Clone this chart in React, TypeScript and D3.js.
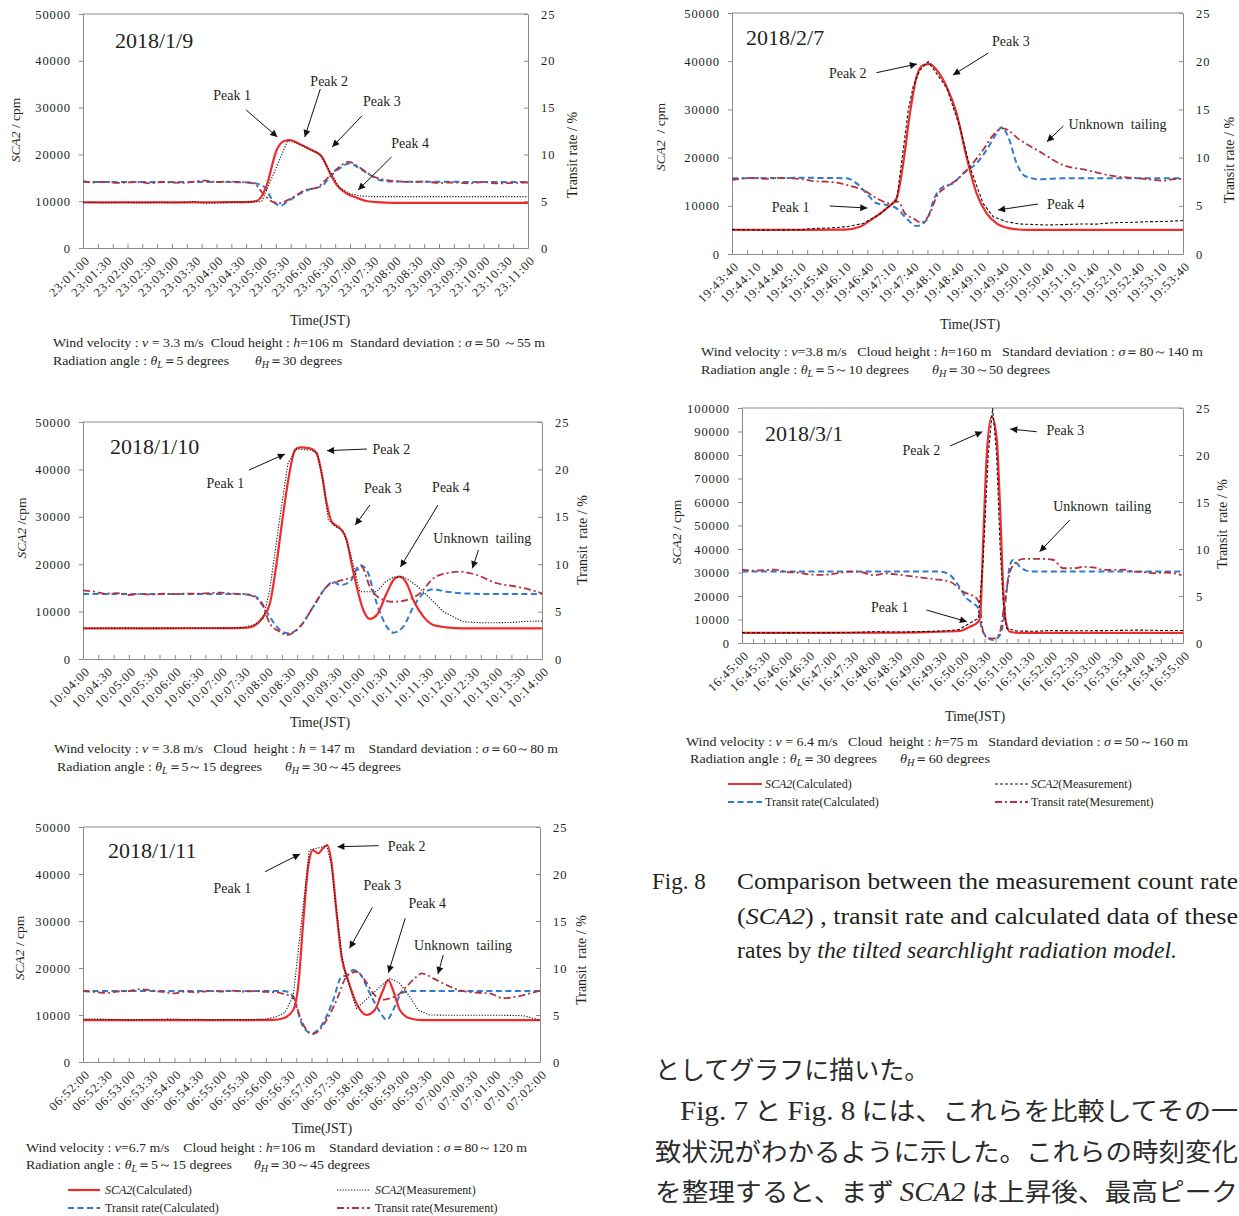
import React, { useEffect, useRef } from "react";
import * as d3 from "d3";

type Pt = [number, number];
type Seg = { s: string; i?: boolean; sub?: boolean };
type Note = { label: string; at: Pt; from: Pt; to: Pt };

const SERIF = "'Liberation Serif', 'Times New Roman', Times, serif";
const CJK = "'Noto Sans CJK JP', 'Noto Sans CJK SC', sans-serif";
const AXIS_GRAY = "#8a8a8a";
const INK = "#231f20";
const RED = "#ef2b2d";
const BLUE = "#2f7bcd";
const DARK_RED = "#b5323c";

const RIGHT_TICKS = [0, 5, 10, 15, 20, 25];

// time = seconds after the panel's first label, SCA2 in cpm, transit rate in %

// 2018/1/9
const P1_SCA2_CALC: Pt[] = [[0, 9750], [60, 9750], [120, 9760], [180, 9780], [220, 9800], [235, 10100], [247, 13100], [261, 20900], [272, 22900], [279, 23080], [292, 22200], [306, 21100], [317, 20200], [322, 19500], [333, 16000], [342, 13500], [355, 11700], [369, 10750], [382, 10040], [396, 9800], [420, 9650], [600, 9650]];
const P1_SCA2_MEAS: Pt[] = [[0, 9700], [15, 9750], [30, 9650], [45, 9700], [60, 9750], [75, 9650], [90, 9700], [105, 9800], [120, 9650], [135, 9750], [150, 9950], [165, 9550], [180, 9600], [195, 9700], [210, 9800], [225, 9850], [241, 9900], [276, 22950], [290, 22300], [306, 21000], [320, 20000], [333, 16300], [346, 12900], [360, 11600], [375, 11100], [390, 10970], [600, 10970]];
const P1_TRANSIT_CALC: Pt[] = [[0, 7.05], [60, 7.05], [120, 7.05], [180, 7.05], [225, 7.0], [244, 6.55], [254, 5.3], [265.5, 4.5], [279, 5.13], [292, 5.77], [306, 6.27], [322, 6.6], [333, 7.62], [346, 8.51], [360, 9.05], [369, 8.7], [387, 7.8], [400, 7.26], [415, 7.1], [600, 7.05]];
const P1_TRANSIT_MEAS: Pt[] = [[0, 7.15], [15, 7.0], [30, 7.1], [45, 6.95], [60, 7.0], [75, 7.05], [90, 6.9], [105, 7.05], [120, 7.0], [135, 6.95], [150, 7.1], [165, 7.2], [180, 7.05], [195, 7.1], [210, 7.05], [230, 6.9], [245, 5.6], [254, 5.0], [262, 4.75], [270, 4.9], [285, 5.5], [300, 6.2], [315, 6.45], [330, 7.5], [346, 8.7], [358, 9.2], [375, 8.5], [390, 7.7], [405, 7.3], [420, 7.15], [440, 7.05], [460, 7.1], [480, 6.95], [500, 7.0], [520, 6.9], [540, 7.05], [560, 6.9], [580, 6.95], [600, 7.0]];

// 2018/1/10
const P2_SCA2_CALC: Pt[] = [[0, 6450], [100, 6480], [200, 6500], [215, 6600], [222.6, 6900], [235.7, 8930], [244.4, 11750], [253, 20190], [261.8, 30740], [270.6, 39870], [277, 44090], [283.7, 44660], [296.7, 44450], [305.4, 43390], [312, 39170], [318.5, 32850], [325, 28970], [336, 27570], [344.7, 25100], [351, 20190], [357.8, 15250], [366.4, 10340], [375, 8450], [384, 9280], [397, 13860], [407.8, 17030], [414, 17360], [423, 15970], [431.8, 12450], [445, 8930], [458, 7170], [475, 6690], [496, 6480], [600, 6450]];
const P2_SCA2_MEAS: Pt[] = [[0, 6500], [15, 6450], [30, 6550], [45, 6500], [60, 6600], [75, 6450], [90, 6500], [105, 6550], [120, 6500], [135, 6600], [150, 6500], [165, 6550], [180, 6500], [195, 6550], [210, 6650], [225, 7300], [235.7, 8650], [244, 14550], [257.5, 30000], [268, 41350], [279, 44300], [296.7, 44100], [306, 43600], [314, 37500], [320.6, 29320], [330, 27900], [340, 27200], [350, 22000], [362, 14200], [384, 14200], [395, 16200], [405.6, 17300], [420, 17300], [436, 15500], [453.6, 12800], [471, 9980], [497, 7870], [520, 7650], [540, 7660], [560, 7700], [580, 7950], [600, 8000]];
const P2_TRANSIT_CALC: Pt[] = [[0, 6.85], [100, 6.85], [200, 6.85], [220, 6.75], [231, 6.22], [244, 4.46], [257.5, 3.06], [268, 2.71], [283.7, 3.41], [301, 5.52], [318.5, 7.63], [327, 8.15], [336, 7.8], [349, 8.15], [362, 9.92], [370.8, 9.39], [384, 5.87], [397, 3.41], [405.6, 2.78], [418.7, 3.41], [432, 5.52], [445, 6.93], [458, 7.35], [475, 7.1], [496, 6.93], [540, 6.85], [600, 6.85]];
const P2_TRANSIT_MEAS: Pt[] = [[0, 7.25], [15, 7.1], [30, 6.9], [45, 6.95], [60, 6.75], [75, 6.85], [90, 6.8], [105, 6.9], [120, 6.85], [135, 6.9], [150, 6.9], [165, 6.95], [180, 7.0], [195, 6.9], [210, 6.85], [218, 6.75], [235.7, 5.52], [244, 3.76], [257.5, 2.88], [266, 2.53], [283.7, 3.41], [301, 5.52], [318.5, 7.63], [336, 8.26], [353, 8.68], [364, 9.74], [375, 7.63], [388, 6.4], [405.6, 6.04], [423, 6.22], [440.5, 6.93], [458, 8.51], [475, 9.04], [492.8, 9.21], [514.6, 8.86], [540.8, 7.99], [567, 7.63], [585, 7.3], [600, 6.93]];

// 2018/1/11
const P3_SCA2_CALC: Pt[] = [[0, 8900], [100, 8900], [200, 8900], [250, 8950], [263, 9300], [276, 11060], [282.5, 16030], [289, 29500], [295.7, 41560], [302, 45100], [308.8, 44400], [315, 45470], [320.6, 46170], [326.4, 42280], [333, 31640], [339.5, 22400], [348, 17450], [359, 12490], [372, 10000], [383, 11060], [394, 15320], [400.7, 17450], [407, 15320], [416, 11060], [429, 9300], [446.6, 8900], [600, 8900]];
const P3_SCA2_MEAS: Pt[] = [[0, 9100], [15, 9150], [30, 9100], [45, 9000], [60, 8900], [75, 9000], [90, 9050], [105, 9100], [120, 9150], [135, 9000], [150, 9100], [165, 8900], [180, 9000], [195, 9050], [210, 9000], [225, 9050], [240, 9100], [255, 9700], [265, 10500], [276, 14000], [289, 33000], [297, 45100], [310, 45600], [320, 46000], [326, 42000], [333, 32000], [340, 22500], [346, 18000], [359, 11420], [376, 13900], [390, 16000], [403, 17800], [416, 16740], [429, 13900], [440, 11060], [455, 10000], [480, 9950], [510, 9950], [540, 9950], [570, 9900], [580, 9800], [600, 8900]];
const P3_TRANSIT_CALC: Pt[] = [[0, 7.55], [100, 7.55], [200, 7.55], [260, 7.55], [271.6, 7.4], [280, 5.89], [289, 3.76], [300, 3.05], [315, 4.11], [328.5, 6.6], [339.5, 9.08], [346, 9.2], [354.7, 9.79], [363.5, 9.4], [376.6, 7.3], [389.8, 5.35], [398.6, 4.47], [409.4, 5.89], [418, 7.3], [429, 7.55], [600, 7.55]];
const P3_TRANSIT_MEAS: Pt[] = [[0, 7.55], [15, 7.45], [30, 7.35], [45, 7.5], [60, 7.55], [75, 7.75], [90, 7.6], [105, 7.45], [120, 7.3], [135, 7.5], [150, 7.4], [165, 7.55], [180, 7.5], [195, 7.6], [210, 7.5], [225, 7.55], [240, 7.45], [255, 7.4], [265, 7.2], [276, 6.95], [284.8, 4.82], [293.5, 3.4], [302, 2.98], [319.8, 4.47], [333, 6.6], [346, 9.08], [359, 9.6], [370, 8.72], [381, 7.3], [392, 6.6], [403, 6.78], [413.8, 7.13], [424.8, 8.02], [438, 9.08], [444.5, 9.43], [459.7, 8.9], [472.8, 8.37], [490.4, 7.73], [516.7, 7.37], [534, 7.3], [551.6, 6.78], [569, 6.95], [586.6, 7.3], [600, 7.6]];

// 2018/2/7
const P4_SCA2_CALC: Pt[] = [[0, 5000], [100, 5000], [150, 5050], [170, 5660], [188, 7400], [205.7, 9480], [219, 11560], [227.8, 18820], [236.7, 29180], [245.6, 36800], [254.4, 39200], [263.3, 39400], [272.2, 38170], [285.5, 34700], [298.8, 29180], [312, 20180], [325.4, 12590], [338.7, 8440], [352, 6370], [369.7, 5330], [392, 5000], [600, 5000]];
const P4_SCA2_MEAS: Pt[] = [[0, 5100], [20, 5050], [40, 4950], [64, 5000], [90, 5050], [110, 5300], [130, 5400], [152.5, 5660], [175, 6370], [196.8, 8300], [219, 11200], [227.8, 21580], [234.5, 29880], [241, 34700], [250, 38170], [261, 39900], [285.5, 34500], [303, 26400], [316.5, 18100], [334, 10500], [347.5, 7740], [365, 6700], [383, 6220], [418.5, 6020], [440, 6100], [462.8, 6220], [485, 6200], [507, 6500], [530, 6550], [551, 6700], [575, 6750], [600, 6910]];
const P4_TRANSIT_CALC: Pt[] = [[0, 7.85], [100, 7.9], [152.5, 7.85], [165.8, 7.33], [179, 6.3], [192.4, 5.26], [205.7, 5.08], [219, 4.74], [232, 3.7], [245.6, 2.9], [259, 3.53], [270, 5.94], [281, 6.98], [294, 7.33], [307.6, 8.37], [325.4, 9.41], [338.7, 10.79], [352, 12.52], [358.6, 13.14], [367.4, 12.17], [378.6, 9.41], [389.6, 8.09], [409.6, 7.75], [440, 7.85], [600, 7.85]];
const P4_TRANSIT_MEAS: Pt[] = [[0, 7.7], [15, 7.85], [30, 7.9], [45, 7.8], [63.8, 7.9], [80, 7.85], [95, 7.75], [108, 7.57], [125, 7.5], [140, 7.4], [152.5, 7.16], [165, 6.9], [174.6, 6.64], [192.4, 5.78], [210, 5.26], [221, 5.43], [230, 4.22], [241, 3.7], [252, 3.25], [263.3, 4.22], [272, 5.94], [285.5, 6.98], [298.8, 7.68], [316.5, 9.06], [334, 10.79], [347.5, 12.34], [360.8, 13.04], [383, 11.83], [409.6, 10.61], [440.6, 9.23], [471.7, 8.71], [507, 8.09], [542.6, 7.85], [560, 7.7], [573.5, 7.6], [585, 7.75], [600, 7.8]];

// 2018/3/1
const P5_SCA2_CALC: Pt[] = [[0, 4300], [100, 4300], [200, 4400], [250, 4600], [280, 4900], [296.6, 5100], [310, 6940], [319.3, 8380], [323.8, 10500], [328.3, 44550], [333, 80000], [339.7, 96300], [346.5, 87100], [351, 58700], [355.6, 21830], [359, 9060], [364.6, 4810], [377, 4300], [600, 4300]];
const P5_SCA2_MEAS: Pt[] = [[0, 4400], [30, 4350], [60, 4400], [90, 4450], [120, 4400], [150, 4500], [180, 4800], [200, 4700], [220, 4650], [240, 4800], [260, 5000], [280, 5200], [296, 5800], [305.7, 7660], [321.5, 10500], [328, 34600], [335, 80000], [341, 100000], [346.5, 80000], [351, 41700], [355.6, 16170], [360, 6240], [373.7, 5100], [400, 5000], [420, 5300], [460, 5200], [500, 5300], [540, 5500], [570, 5300], [600, 5300]];
const P5_TRANSIT_CALC: Pt[] = [[0, 7.6], [200, 7.6], [269.4, 7.6], [283, 7.23], [294, 6.17], [305.7, 4.75], [314.7, 4.22], [321.5, 3.69], [326, 1.56], [333, 0.67], [342, 0.32], [351, 0.85], [355.6, 2.27], [360, 5.46], [364.6, 8.3], [369, 8.83], [378, 8.12], [387, 7.7], [400, 7.6], [600, 7.6]];
const P5_TRANSIT_MEAS: Pt[] = [[0, 7.8], [15, 7.7], [30, 7.75], [45, 7.8], [60, 7.55], [75, 7.5], [90, 7.3], [105, 7.25], [120, 7.3], [135, 7.5], [150, 7.6], [165, 7.5], [180, 7.2], [195, 7.4], [210, 7.3], [225, 7.15], [240, 7.0], [260, 6.8], [283, 6.52], [301, 5.46], [319.3, 4.75], [324, 3.69], [328, 1.2], [335, 0.5], [344, 0.5], [351, 1.2], [358, 4.75], [364.6, 7.59], [373.7, 8.65], [383, 8.94], [410, 8.94], [423.7, 8.83], [437, 7.95], [451, 7.95], [465, 8.1], [478, 8.05], [491.6, 7.77], [509.8, 7.77], [520, 7.8], [532.6, 7.59], [545, 7.55], [560, 7.42], [578, 7.5], [598, 7.23]];

// annotations in data units (seconds, cpm)
const P1_NOTES: Note[] = [
  { label: "Peak 1", at: [201, 32700], from: [220, 29490], to: [262, 23720] },
  { label: "Peak 2", at: [332, 35690], from: [320, 33980], to: [299, 23720] },
  { label: "Peak 3", at: [403, 31410], from: [376, 28210], to: [336, 21580] },
  { label: "Peak 4", at: [441, 22440], from: [416, 19450], to: [371, 12400] },
];
const P2_NOTES: Note[] = [
  { label: "Peak 1", at: [186, 37130], from: [217, 39870], to: [264, 43250] },
  { label: "Peak 2", at: [403, 44300], from: [371, 44300], to: [319, 43950] },
  { label: "Peak 3", at: [392, 36080], from: [375, 32490], to: [356, 28270] },
  { label: "Peak 4", at: [481, 36290], from: [464, 32490], to: [415, 19410] },
  { label: "Unknown  tailing", at: [522, 25530], from: [517, 23000], to: [509, 19130] },
];
const P3_NOTES: Note[] = [
  { label: "Peak 1", at: [196, 37020], from: [239, 40490], to: [285, 44260] },
  { label: "Peak 2", at: [425, 45960], from: [388, 46020], to: [334, 45810] },
  { label: "Peak 3", at: [393, 37660], from: [380, 32920], to: [350, 24190] },
  { label: "Peak 4", at: [452, 33830], from: [423, 30570], to: [401, 19000] },
  { label: "Unknown  tailing", at: [499, 24890], from: [473, 22770], to: [466, 18720] },
];
const P4_NOTES: Note[] = [
  { label: "Peak 2", at: [154, 37550], from: [192, 37610], to: [246, 39420] },
  { label: "Peak 3", at: [371, 44190], from: [341, 41700], to: [294, 37140] },
  { label: "Unknown  tailing", at: [513, 26970], from: [441, 26560], to: [419, 23300] },
  { label: "Peak 1", at: [78, 9750], from: [130, 9960], to: [180, 9540] },
  { label: "Peak 4", at: [444, 10370], from: [407, 10370], to: [354, 9130] },
];
const P5_NOTES: Note[] = [
  { label: "Peak 2", at: [244, 82120], from: [283, 83820], to: [327, 89900] },
  { label: "Peak 3", at: [440, 90630], from: [401, 89900], to: [365, 91060] },
  { label: "Unknown  tailing", at: [490, 58420], from: [446, 52330], to: [405, 38850] },
  { label: "Peak 1", at: [201, 15320], from: [251, 14040], to: [306, 9060] },
];

const th = (sub: string): Seg[] => [{ s: "θ", i: true }, { s: sub, i: true, sub: true }];

const PANELS = [
  {
    title: "2018/1/9", start: Date.UTC(2018, 0, 9, 23, 1, 0), yMax: 50000, yStep: 10000, minor: 20,
    x0: 83, x1: 528, y0: 248, y1: 14, titleX: 115, titleY: 40, timeX: 320, timeY: 320,
    leftTitle: { x: 15, y: 130, text: " / cpm" }, rightTitle: { x: 572, y: 155, text: "Transit rate / %" },
    calc: P1_SCA2_CALC, meas: P1_SCA2_MEAS, tCalc: P1_TRANSIT_CALC, tMeas: P1_TRANSIT_MEAS, measDash: "1.2,1.6", notes: P1_NOTES,
    cap1: { x: 53, y: 347, len: 492, segs: [{ s: "Wind velocity : " }, { s: "v", i: true }, { s: " = 3.3 m/s  Cloud height : " }, { s: "h", i: true }, { s: "=106 m  Standard deviation : " }, { s: "σ", i: true }, { s: "＝50 ～55 m" }] },
    cap2: { x: 53, y: 365, len: 176, segs: [{ s: "Radiation angle : " }, ...th("L"), { s: "＝5 degrees" }] },
    cap3: { x: 255, y: 365, len: 87, segs: [...th("H"), { s: "＝30 degrees" }] },
  },
  {
    title: "2018/1/10", start: Date.UTC(2018, 0, 10, 10, 4, 0), yMax: 50000, yStep: 10000, minor: 20,
    x0: 83, x1: 542, y0: 659, y1: 422, titleX: 110, titleY: 446, timeX: 320, timeY: 722,
    leftTitle: { x: 21, y: 528, text: " /cpm" }, rightTitle: { x: 582, y: 540, text: "Transit  rate / %" },
    calc: P2_SCA2_CALC, meas: P2_SCA2_MEAS, tCalc: P2_TRANSIT_CALC, tMeas: P2_TRANSIT_MEAS, measDash: "1.2,1.6", notes: P2_NOTES,
    cap1: { x: 54, y: 753, len: 504, segs: [{ s: "Wind velocity : " }, { s: "v", i: true }, { s: " = 3.8 m/s   Cloud  height : " }, { s: "h", i: true }, { s: " = 147 m    Standard deviation : " }, { s: "σ", i: true }, { s: "＝60～80 m" }] },
    cap2: { x: 57, y: 771, len: 205, segs: [{ s: "Radiation angle : " }, ...th("L"), { s: "＝5～15 degrees" }] },
    cap3: { x: 285, y: 771, len: 116, segs: [...th("H"), { s: "＝30～45 degrees" }] },
  },
  {
    title: "2018/1/11", start: Date.UTC(2018, 0, 11, 6, 52, 0), yMax: 50000, yStep: 10000, minor: 20,
    x0: 83, x1: 540, y0: 1062, y1: 827, titleX: 108, titleY: 850, timeX: 322, timeY: 1128,
    leftTitle: { x: 19, y: 948, text: " / cpm" }, rightTitle: { x: 581, y: 960, text: "Transit  rate / %" },
    calc: P3_SCA2_CALC, meas: P3_SCA2_MEAS, tCalc: P3_TRANSIT_CALC, tMeas: P3_TRANSIT_MEAS, measDash: "1.2,1.6", notes: P3_NOTES,
    cap1: { x: 26, y: 1152, len: 501, segs: [{ s: "Wind velocity : " }, { s: "v", i: true }, { s: "=6.7 m/s    Cloud height : " }, { s: "h", i: true }, { s: "=106 m    Standard deviation : " }, { s: "σ", i: true }, { s: "＝80～120 m" }] },
    cap2: { x: 26, y: 1169, len: 206, segs: [{ s: "Radiation angle : " }, ...th("L"), { s: "＝5～15 degrees" }] },
    cap3: { x: 254, y: 1169, len: 116, segs: [...th("H"), { s: "＝30～45 degrees" }] },
  },
  {
    title: "2018/2/7", start: Date.UTC(2018, 1, 7, 19, 43, 40), yMax: 50000, yStep: 10000, minor: 20,
    x0: 732, x1: 1183, y0: 254, y1: 13, titleX: 746, titleY: 37, timeX: 970, timeY: 324,
    leftTitle: { x: 660, y: 137, text: "  / cpm" }, rightTitle: { x: 1229, y: 160, text: "Transit rate / %" },
    calc: P4_SCA2_CALC, meas: P4_SCA2_MEAS, tCalc: P4_TRANSIT_CALC, tMeas: P4_TRANSIT_MEAS, measDash: "3,2", notes: P4_NOTES,
    cap1: { x: 701, y: 356, len: 502, segs: [{ s: "Wind velocity : " }, { s: "v", i: true }, { s: "=3.8 m/s   Cloud height : " }, { s: "h", i: true }, { s: "=160 m   Standard deviation : " }, { s: "σ", i: true }, { s: "＝80～140 m" }] },
    cap2: { x: 701, y: 374, len: 208, segs: [{ s: "Radiation angle : " }, ...th("L"), { s: "＝5～10 degrees" }] },
    cap3: { x: 932, y: 374, len: 118, segs: [...th("H"), { s: "＝30～50 degrees" }] },
  },
  {
    title: "2018/3/1", start: Date.UTC(2018, 2, 1, 16, 45, 0), yMax: 100000, yStep: 10000, minor: 15,
    x0: 742, x1: 1183, y0: 643, y1: 408, titleX: 765, titleY: 433, timeX: 975, timeY: 716,
    leftTitle: { x: 676, y: 532, text: " / cpm" }, rightTitle: { x: 1222, y: 524, text: "Transit  rate / %" },
    calc: P5_SCA2_CALC, meas: P5_SCA2_MEAS, tCalc: P5_TRANSIT_CALC, tMeas: P5_TRANSIT_MEAS, measDash: "3,2", notes: P5_NOTES,
    cap1: { x: 686, y: 746, len: 502, segs: [{ s: "Wind velocity : " }, { s: "v", i: true }, { s: " = 6.4 m/s   Cloud  height : " }, { s: "h", i: true }, { s: "=75 m   Standard deviation : " }, { s: "σ", i: true }, { s: "＝50～160 m" }] },
    cap2: { x: 690, y: 763, len: 187, segs: [{ s: "Radiation angle : " }, ...th("L"), { s: "＝30 degrees" }] },
    cap3: { x: 900, y: 763, len: 90, segs: [...th("H"), { s: "＝60 degrees" }] },
  },
];

const LEGENDS = [
  { x: [68, 100, 105], x2: [337, 370, 375], y: [1190, 1208], measDash: "1.2,1.6" },
  { x: [728, 762, 765], x2: [995, 1028, 1031], y: [784, 802], measDash: "3,2" },
];

const richText = (parent: any, segs: Seg[], x: number, y: number, size: number, len?: number) => {
  const t = parent.append("text").attr("x", x).attr("y", y).attr("font-size", size).attr("fill", INK).style("white-space", "pre");
  if (len) t.attr("textLength", len).attr("lengthAdjust", "spacingAndGlyphs");
  let shifted = false;
  segs.forEach((seg) => {
    const ts = t.append("tspan").text(seg.s);
    if (seg.i) ts.attr("font-style", "italic");
    if (seg.sub) {
      ts.attr("dy", 3).attr("font-size", size * 0.72);
      shifted = true;
    } else if (shifted) {
      ts.attr("dy", -3);
      shifted = false;
    }
  });
  return t;
};

const styleAxis = (sel: any) => {
  sel.attr("font-family", SERIF).attr("font-size", 12.5);
  sel.select(".domain").attr("stroke", AXIS_GRAY);
  sel.selectAll(".tick line").attr("stroke", AXIS_GRAY);
  sel.selectAll(".tick text").attr("fill", INK).style("letter-spacing", "0.9px");
};

const drawPanel = (root: any, p: any) => {
  const g = root.append("g");
  const at = (s: number) => new Date(p.start + s * 1000);
  const x = d3.scaleUtc().domain([at(0), at(600)]).range([p.x0, p.x1]);
  const y = d3.scaleLinear().domain([0, p.yMax]).range([p.y0, p.y1]);
  const yr = d3.scaleLinear().domain([0, 25]).range([p.y0, p.y1]);

  g.append("line").attr("x1", p.x0).attr("x2", p.x1).attr("y1", p.y1).attr("y2", p.y1).attr("stroke", AXIS_GRAY);

  g.append("g").attr("transform", `translate(${p.x0},0)`)
    .call(d3.axisLeft(y).tickValues(d3.range(0, p.yMax + 1, p.yStep)).tickSizeInner(4).tickSizeOuter(0).tickPadding(8).tickFormat(d3.format("d")))
    .call(styleAxis);
  g.append("g").attr("transform", `translate(${p.x1},0)`)
    .call(d3.axisRight(yr).tickValues(RIGHT_TICKS).tickSizeInner(-4).tickSizeOuter(0).tickPadding(13))
    .call(styleAxis);
  g.append("g").attr("transform", `translate(0,${p.y0})`)
    .call(d3.axisBottom(x).tickValues(d3.range(0, 601, p.minor).map(at)).tickSizeInner(-4).tickSizeOuter(0).tickFormat(() => ""))
    .call(styleAxis);
  const lab = g.append("g").attr("transform", `translate(0,${p.y0})`)
    .call(d3.axisBottom(x).tickValues(d3.range(0, 601, 30).map(at)).tickSize(0).tickFormat(d3.utcFormat("%H:%M:%S") as any))
    .call(styleAxis);
  lab.select(".domain").remove();
  lab.selectAll(".tick text").attr("y", null).attr("dy", "0.35em").attr("text-anchor", "end")
    .attr("transform", "translate(4,10) rotate(-45)");

  const lineL = (curve: any) => d3.line<Pt>().x((d) => x(at(d[0]))).y((d) => y(d[1])).curve(curve);
  const lineR = (curve: any) => d3.line<Pt>().x((d) => x(at(d[0]))).y((d) => yr(d[1])).curve(curve);

  g.append("path").attr("d", lineR(d3.curveMonotoneX)(p.tCalc)).attr("fill", "none")
    .attr("stroke", BLUE).attr("stroke-width", 2).attr("stroke-dasharray", "6,3.5");
  g.append("path").attr("d", lineR(d3.curveMonotoneX)(p.tMeas)).attr("fill", "none")
    .attr("stroke", DARK_RED).attr("stroke-width", 1.8).attr("stroke-dasharray", "7,3,2,3");
  g.append("path").attr("d", lineL(d3.curveMonotoneX)(p.calc)).attr("fill", "none")
    .attr("stroke", RED).attr("stroke-width", 2.2);
  g.append("path").attr("d", lineL(d3.curveLinear)(p.meas)).attr("fill", "none")
    .attr("stroke", "#111").attr("stroke-width", 1.1).attr("stroke-dasharray", p.measDash);

  p.notes.forEach((n: Note) => {
    g.append("line")
      .attr("x1", x(at(n.from[0]))).attr("y1", y(n.from[1]))
      .attr("x2", x(at(n.to[0]))).attr("y2", y(n.to[1]))
      .attr("stroke", "#111").attr("stroke-width", 1).attr("marker-end", "url(#arrowhead)");
    g.append("text").attr("x", x(at(n.at[0]))).attr("y", y(n.at[1])).attr("dy", "0.35em")
      .attr("text-anchor", "middle").attr("font-size", 14).attr("fill", INK).style("white-space", "pre").text(n.label);
  });

  g.append("text").attr("x", p.titleX).attr("y", p.titleY).attr("dy", "0.35em")
    .attr("font-size", 22).attr("fill", INK).text(p.title);
  g.append("text").attr("x", p.timeX).attr("y", p.timeY).attr("dy", "0.35em").attr("text-anchor", "middle")
    .attr("font-size", 14).attr("fill", INK).text("Time(JST)");

  const lt = g.append("text").attr("transform", `translate(${p.leftTitle.x},${p.leftTitle.y}) rotate(-90)`)
    .attr("dy", "0.35em").attr("text-anchor", "middle").attr("font-size", 13.5).attr("fill", INK).style("white-space", "pre");
  lt.append("tspan").attr("font-style", "italic").text("SCA2");
  lt.append("tspan").text(p.leftTitle.text);
  g.append("text").attr("transform", `translate(${p.rightTitle.x},${p.rightTitle.y}) rotate(-90)`)
    .attr("dy", "0.35em").attr("text-anchor", "middle").attr("font-size", 14).attr("fill", INK)
    .style("white-space", "pre").text(p.rightTitle.text);

  richText(g, p.cap1.segs, p.cap1.x, p.cap1.y, 13, p.cap1.len);
  richText(g, p.cap2.segs, p.cap2.x, p.cap2.y, 13, p.cap2.len);
  richText(g, p.cap3.segs, p.cap3.x, p.cap3.y, 13, p.cap3.len);
};

const drawLegend = (root: any, lg: any) => {
  const g = root.append("g");
  const sample = (x0: number, x1: number, yy: number, stroke: string, w: number, dash: string | null) =>
    g.append("line").attr("x1", x0).attr("x2", x1).attr("y1", yy).attr("y2", yy)
      .attr("stroke", stroke).attr("stroke-width", w).attr("stroke-dasharray", dash);
  sample(lg.x[0], lg.x[1], lg.y[0], RED, 2.2, null);
  sample(lg.x[0], lg.x[1], lg.y[1], BLUE, 2, "6,3.5");
  sample(lg.x2[0], lg.x2[1], lg.y[0], "#111", 1.1, lg.measDash);
  sample(lg.x2[0], lg.x2[1], lg.y[1], DARK_RED, 1.8, "7,3,2,3");
  richText(g, [{ s: "SCA2", i: true }, { s: "(Calculated)" }], lg.x[2], lg.y[0] + 4, 12);
  richText(g, [{ s: "Transit rate(Calculated)" }], lg.x[2], lg.y[1] + 4, 12);
  richText(g, [{ s: "SCA2", i: true }, { s: "(Measurement)" }], lg.x2[2], lg.y[0] + 4, 12);
  richText(g, [{ s: "Transit rate(Mesurement)" }], lg.x2[2], lg.y[1] + 4, 12);
};

const drawCaption = (root: any) => {
  const g = root.append("g");
  g.append("text").attr("x", 652).attr("y", 889).attr("font-size", 23).attr("fill", INK).text("Fig. 8");
  richText(g, [{ s: "Comparison between the measurement count rate" }], 737, 889, 23, 501);
  richText(g, [{ s: "(" }, { s: "SCA2", i: true }, { s: ") , transit rate and calculated data of these" }], 737, 924, 23, 501);
  richText(g, [{ s: "rates by " }, { s: "the tilted searchlight radiation model.", i: true }], 737, 958, 23, 440);

  const jp = (x: number, y: number, parts: { s: string; latin?: boolean; i?: boolean }[], len?: number) => {
    const t = g.append("text").attr("x", x).attr("y", y).attr("font-size", 25).attr("fill", "#2b2b2b")
      .attr("font-family", CJK).style("white-space", "pre");
    if (len) t.attr("textLength", len).attr("lengthAdjust", "spacingAndGlyphs");
    parts.forEach((pt) => {
      const ts = t.append("tspan").text(pt.s);
      if (pt.latin) ts.attr("font-family", SERIF).attr("font-size", 27);
      if (pt.i) ts.attr("font-style", "italic");
    });
  };
  jp(655, 1079, [{ s: "としてグラフに描いた。" }]);
  jp(680, 1120, [{ s: "Fig. 7", latin: true }, { s: " と " }, { s: "Fig. 8", latin: true }, { s: " には、これらを比較してその一" }], 558);
  jp(655, 1161, [{ s: "致状況がわかるように示した。これらの時刻変化" }], 583);
  jp(655, 1201, [{ s: "を整理すると、まず " }, { s: "SCA2", latin: true, i: true }, { s: " は上昇後、最高ピーク" }], 583);
};

export default function App() {
  const ref = useRef<SVGSVGElement>(null);

  useEffect(() => {
    const svg = d3.select(ref.current);
    svg.selectAll("*").remove();
    svg.append("defs").append("marker")
      .attr("id", "arrowhead").attr("viewBox", "0 0 10 10").attr("refX", 10).attr("refY", 5)
      .attr("markerWidth", 9).attr("markerHeight", 7).attr("markerUnits", "userSpaceOnUse")
      .attr("orient", "auto")
      .append("path").attr("d", "M0,0 L10,5 L0,10 z").attr("fill", "#111");
    svg.append("rect").attr("width", 1239).attr("height", 1216).attr("fill", "#fff");
    PANELS.forEach((p) => drawPanel(svg, p));
    LEGENDS.forEach((lg) => drawLegend(svg, lg));
    drawCaption(svg);
  }, []);

  return (
    <svg
      ref={ref}
      width={1239}
      height={1216}
      fontFamily={SERIF}
      style={{ position: "absolute", left: 0, top: 0, background: "#fff" }}
    />
  );
}
